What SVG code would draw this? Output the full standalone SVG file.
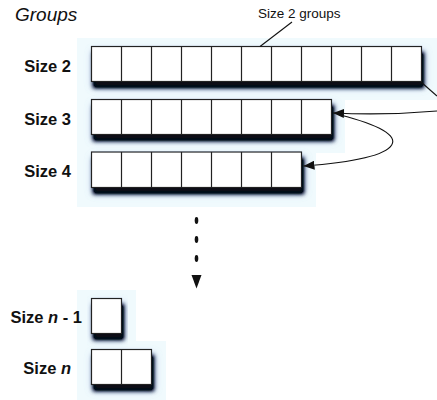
<svg xmlns="http://www.w3.org/2000/svg" width="437" height="400" viewBox="0 0 437 400">
  <style>
    .label { font-family: "Liberation Sans", Arial, sans-serif; font-size: 16.5px; font-weight: bold; fill: #111; text-anchor: end; }
    .title { font-family: "Liberation Sans", Arial, sans-serif; font-size: 19px; font-style: italic; fill: #111; }
    .note { font-family: "Liberation Sans", Arial, sans-serif; font-size: 13.5px; fill: #111; }
    .haze { fill: #f0fafd; }
    .box { fill: #fff; stroke: #222; stroke-width: 1.2; filter: url(#shadow); }
    .cells { fill: none; stroke: #222; stroke-width: 1.2; }
    .conn { fill: none; stroke: #111; stroke-width: 1.1; }
  </style>
  <defs>
    <!-- dark drop shadow with a faint blue fringe under every row of cells -->
    <filter id="shadow" x="-20%" y="-40%" width="140%" height="190%">
      <feGaussianBlur in="SourceAlpha" stdDeviation="4" result="wide"/>
      <feOffset in="wide" dx="2" dy="5" result="wideOff"/>
      <feFlood flood-color="#6c8cd8" flood-opacity="0.5"/>
      <feComposite in2="wideOff" operator="in" result="fringe"/>
      <feGaussianBlur in="SourceAlpha" stdDeviation="2.2" result="blur"/>
      <feOffset in="blur" dx="2" dy="5.5" result="off"/>
      <feFlood flood-color="#070b18" flood-opacity="1"/>
      <feComposite in2="off" operator="in" result="shade"/>
      <feComponentTransfer in="shade" result="shadeBoost">
        <feFuncA type="linear" slope="1.5"/>
      </feComponentTransfer>
      <feMerge>
        <feMergeNode in="fringe"/>
        <feMergeNode in="shadeBoost"/>
        <feMergeNode in="SourceGraphic"/>
      </feMerge>
    </filter>
    <marker id="arrow" markerUnits="userSpaceOnUse" markerWidth="12" markerHeight="9" refX="11" refY="4.5" orient="auto">
      <path d="M0,0 L11,4.5 L0,9 z" fill="#111"/>
    </marker>
  </defs>

  <rect width="437" height="400" fill="#fff"/>

  <!-- pale backdrop behind each row -->
  <rect class="haze" x="77" y="38" width="360" height="62"/>
  <rect class="haze" x="77" y="100" width="268" height="53"/>
  <rect class="haze" x="77" y="153" width="239" height="54"/>
  <rect class="haze" x="77" y="290" width="59" height="51"/>
  <rect class="haze" x="77" y="341" width="89" height="59"/>

  <text class="title" x="15" y="20.5">Groups</text>

  <g id="size2">
    <text class="label" x="71" y="71.5">Size 2</text>
    <rect class="box" x="91.5" y="46.5" width="330" height="35"/>
    <path class="cells" d="M121.5 46.5v35M151.5 46.5v35M181.5 46.5v35M211.5 46.5v35M241.5 46.5v35M271.5 46.5v35M301.5 46.5v35M331.5 46.5v35M361.5 46.5v35M391.5 46.5v35"/>
  </g>

  <g id="size3">
    <text class="label" x="71" y="124.5">Size 3</text>
    <rect class="box" x="91.5" y="99.5" width="240" height="35"/>
    <path class="cells" d="M121.5 99.5v35M151.5 99.5v35M181.5 99.5v35M211.5 99.5v35M241.5 99.5v35M271.5 99.5v35M301.5 99.5v35"/>
  </g>

  <g id="size4">
    <text class="label" x="71" y="176.5">Size 4</text>
    <rect class="box" x="91.5" y="152" width="210" height="35.5"/>
    <path class="cells" d="M121.5 152v35.5M151.5 152v35.5M181.5 152v35.5M211.5 152v35.5M241.5 152v35.5M271.5 152v35.5"/>
  </g>

  <g id="size-n-minus-1">
    <text class="label" x="82" y="322.5">Size <tspan font-style="italic">n</tspan> - 1</text>
    <rect class="box" x="91.5" y="298.5" width="30" height="35"/>
  </g>

  <g id="size-n">
    <text class="label" x="71" y="373.5">Size <tspan font-style="italic">n</tspan></text>
    <rect class="box" x="91.5" y="349.5" width="60" height="35"/>
    <path class="cells" d="M121.5 349.5v35"/>
  </g>

  <g id="annotation">
    <text class="note" x="258" y="18">Size 2 groups</text>
  </g>

  <g id="connectors">
    <path class="conn" d="M260 46.5 L292 22"/>
    <path class="conn" d="M421 82 L437 96"/>
    <path class="conn" d="M437 111 Q386 115.5 333 113" marker-end="url(#arrow)"/>
    <path class="conn" d="M340 115 C420 135 410 158 303.5 166" marker-end="url(#arrow)"/>
    <ellipse cx="196.5" cy="220.5" rx="1.8" ry="3.4" fill="#111"/>
    <ellipse cx="196.5" cy="239.5" rx="1.8" ry="3.4" fill="#111"/>
    <ellipse cx="196.5" cy="258.5" rx="1.8" ry="3.4" fill="#111"/>
    <path d="M191.5 275 L201.5 275 L196.5 288.5 z" fill="#111"/>
  </g>
</svg>
